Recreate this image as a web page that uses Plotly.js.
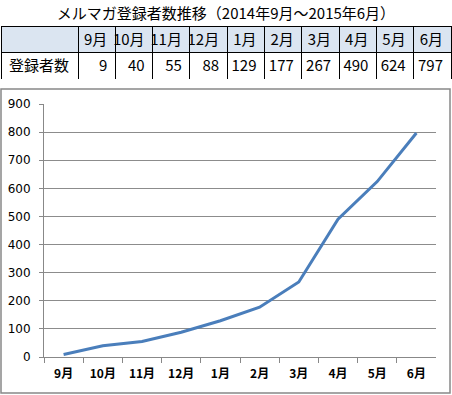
<!DOCTYPE html>
<html><head><meta charset="utf-8">
<script src="https://cdn.plot.ly/plotly-3.0.1.min.js"></script>
<style>html,body{margin:0;padding:0;background:#fff}</style>
</head><body>
<div id="chart" style="width:452px;height:395px"></div>
<script>
const months = ['9月','10月','11月','12月','1月','2月','3月','4月','5月','6月'];
const subscribers = [9, 40, 55, 88, 129, 177, 267, 490, 624, 797];
const rowLabel = '登録者数';
const chartTitle = 'メルマガ登録者数推移（2014年9月～2015年6月）';

const W = 452, H = 395;
const px = v => v / W;
const py = v => 1 - v / H;
const jp = '"Noto Sans CJK JP", "Noto Sans", sans-serif';

const table = {
  type: 'table',
  domain: {x: [px(1), px(451)], y: [py(80), py(26)]},
  columnwidth: [77].concat(months.map(() => 37.3)),
  header: {
    values: [''].concat(months),
    align: ['left'].concat(months.map(() => 'right')),
    fill: {color: '#dbe5f1'},
    line: {color: '#000', width: 1},
    font: {family: jp, size: 15, color: '#000'},
    height: 26
  },
  cells: {
    values: [[rowLabel]].concat(subscribers.map(v => [String(v)])),
    align: ['left'].concat(subscribers.map(() => 'right')),
    fill: {color: '#fff'},
    line: {color: '#000', width: 1},
    font: {family: jp, size: 15, color: '#000'},
    height: 28
  }
};

const line = {
  type: 'scatter', mode: 'lines',
  x: months, y: subscribers,
  line: {color: '#4a7ebb', width: 3},
  hoverinfo: 'skip'
};

const layout = {
  width: W, height: H,
  margin: {l: 0, r: 0, t: 0, b: 0},
  paper_bgcolor: '#fff', plot_bgcolor: '#fff',
  showlegend: false,
  title: {text: chartTitle, x: 0.5, xanchor: 'center', y: py(14), yanchor: 'middle',
          font: {family: jp, size: 15, color: '#000'}},
  xaxis: {
    domain: [px(44), px(436)],
    type: 'category', tickson: 'boundaries',
    range: [-0.5, months.length - 0.5], autorange: false,
    ticks: 'outside', ticklen: 5, tickcolor: '#888', tickwidth: 1,
    showline: true, linecolor: '#888', linewidth: 1,
    showgrid: false, zeroline: false,
    tickfont: {family: jp, size: 12, color: '#000', weight: 'bold'},
    ticklabelstandoff: 6,
    fixedrange: true
  },
  yaxis: {
    domain: [py(357), py(104)],
    range: [0, 900], dtick: 100,
    ticks: 'outside', ticklen: 4, tickcolor: '#888', tickwidth: 1,
    showline: true, linecolor: '#888', linewidth: 1,
    showgrid: true, gridcolor: '#8c8c8c', gridwidth: 1,
    zeroline: false,
    tickfont: {family: '"DejaVu Sans", sans-serif', size: 12, color: '#000'},
    ticklabelstandoff: 6,
    fixedrange: true
  },
  shapes: [{
    type: 'rect', xref: 'paper', yref: 'paper',
    x0: px(1), x1: px(450), y0: py(393), y1: py(89),
    line: {color: '#888', width: 1.5}, fillcolor: 'rgba(0,0,0,0)', layer: 'below'
  }]
};

Plotly.newPlot('chart', [line, table], layout, {staticPlot: true, displayModeBar: false});
</script>
</body></html>
